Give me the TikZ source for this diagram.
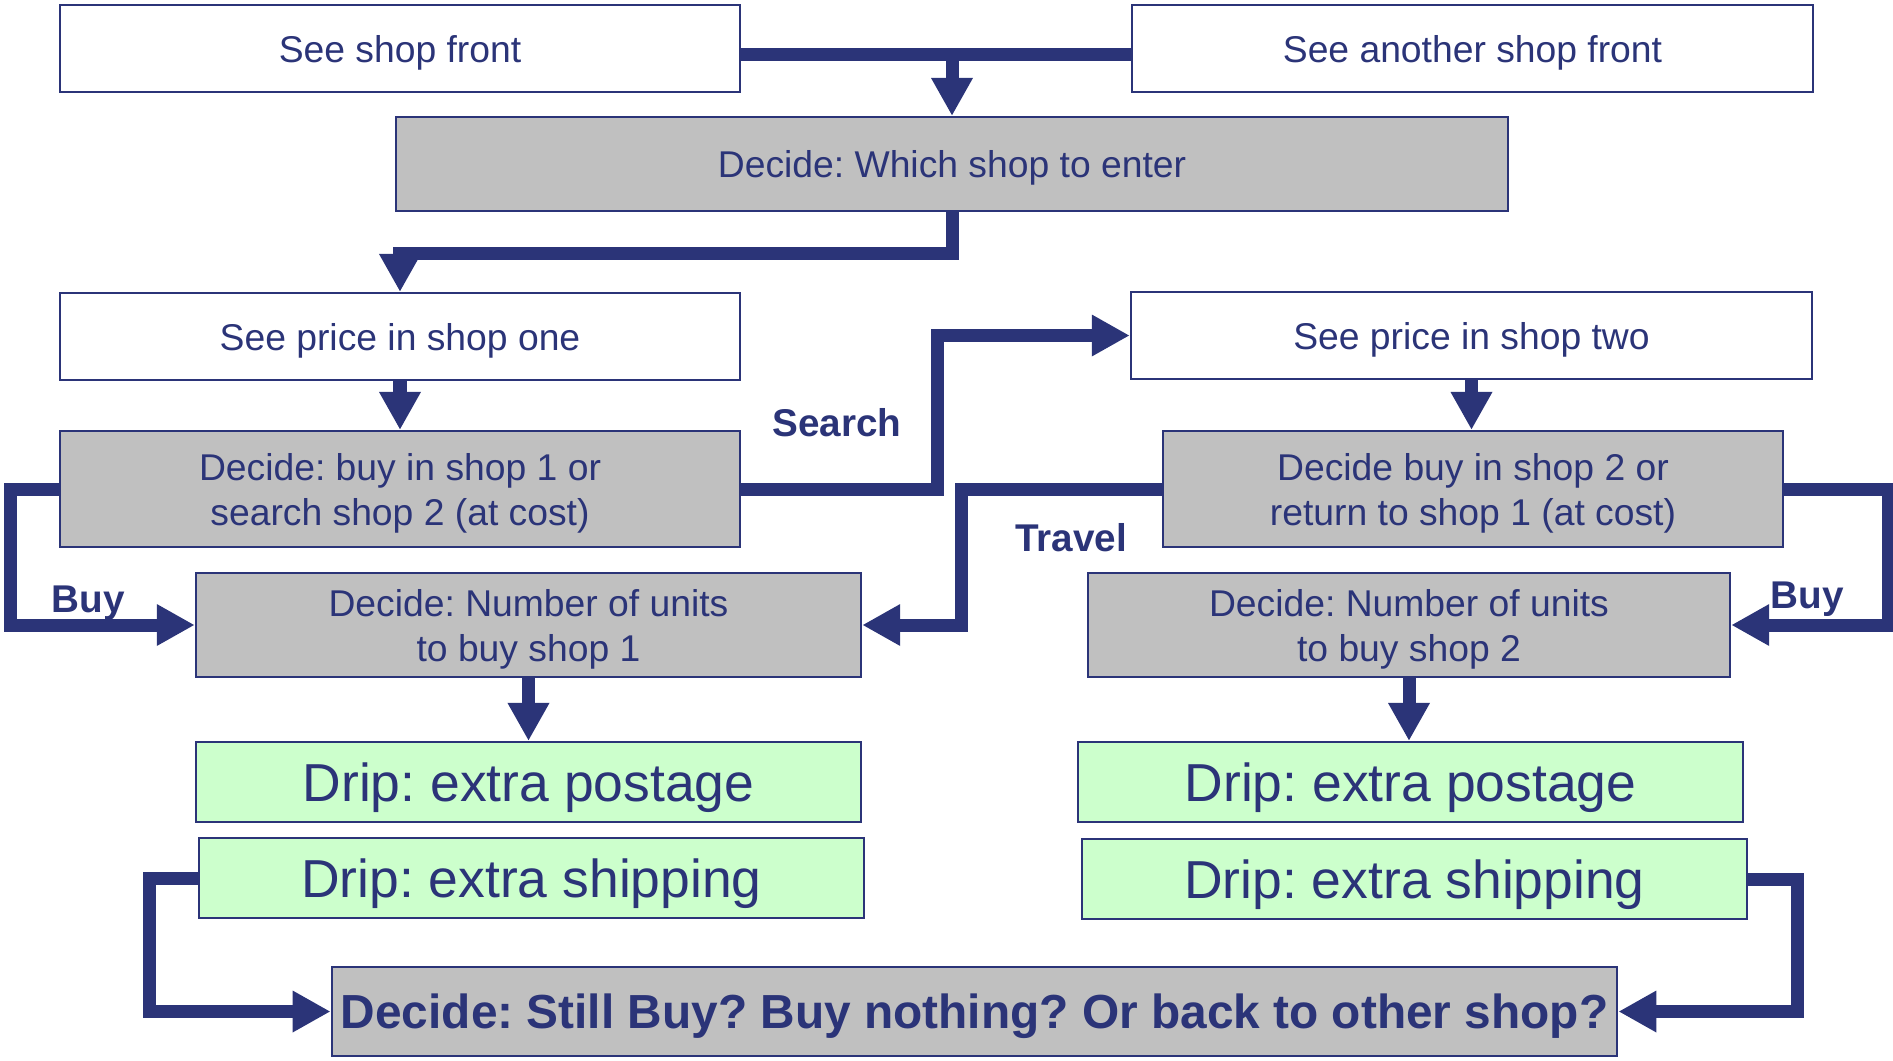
\documentclass[tikz,border=0pt]{standalone}
\usepackage{fontspec}
\setmainfont{Liberation Sans}
\frenchspacing
\usetikzlibrary{arrows.meta,calc}
\definecolor{navy}{RGB}{43,52,120}
\definecolor{boxgray}{RGB}{192,192,192}
\definecolor{dripgreen}{RGB}{204,255,204}
\tikzset{
  box/.style={draw=navy,line width=0.6pt,text=navy,align=center,inner sep=0pt,
    text depth=-1.5pt,font=\fontsize{10.6}{12.8}\selectfont},
  shopbox/.style={box,fill=white,minimum height=0.87cm},
  decidebox/.style={box,fill=boxgray},
  dripbox/.style={box,fill=dripgreen,minimum width=6.65cm,minimum height=0.8cm,
    font=\fontsize{15.2}{17}\selectfont},
  flow/.style={draw=navy,line width=3.7pt},
  arr/.style={flow,-{Triangle[length=10.8pt,width=11.1pt]}},
  tag/.style={text=navy,font=\bfseries\fontsize{11}{13}\selectfont},
}
\begin{document}
\begin{tikzpicture}[x=0.01cm,y=-0.01cm]
\useasboundingbox (0,0) rectangle (1893,1060);

\node[shopbox,minimum width=6.8cm] (front1) at (400,48.5) {See shop front};
\node[shopbox,minimum width=6.81cm] (front2) at (1472.5,48.5) {See another shop front};
\node[decidebox,minimum width=11.12cm,minimum height=0.94cm] (enter) at (952,164) {Decide: Which shop to enter};

\node[shopbox,minimum width=6.8cm] (price1) at (400,336.5) {See price in shop one};
\node[shopbox,minimum width=6.81cm] (price2) at (1471.5,335.5) {See price in shop two};
\node[decidebox,minimum width=6.8cm,minimum height=1.16cm] (dec1) at (400,489) {Decide: buy in shop 1 or\\search shop 2 (at cost)};
\node[decidebox,minimum width=6.2cm,minimum height=1.16cm] (dec2) at (1473,489) {Decide buy in shop 2 or\\return to shop 1 (at cost)};
\node[decidebox,minimum width=6.65cm,minimum height=1.04cm] (units1) at (528.5,625) {Decide: Number of units\\to buy shop 1};
\node[decidebox,minimum width=6.42cm,minimum height=1.04cm] (units2) at (1409,625) {Decide: Number of units\\to buy shop 2};

\node[dripbox] (post1) at (528.5,782) {Drip: extra postage};
\node[dripbox] (ship1) at (531.5,878) {Drip: extra shipping};
\node[dripbox] (post2) at (1410.5,782) {Drip: extra postage};
\node[dripbox] (ship2) at (1414.5,879) {Drip: extra shipping};

\node[decidebox,minimum width=12.85cm,minimum height=0.89cm,font=\bfseries\fontsize{13.6}{16}\selectfont] (final) at (974.5,1011.5) {Decide: Still Buy? Buy nothing? Or back to other shop?};

\coordinate (join) at (952,55);
\draw[flow] ($(front1.east)+(0,6)$) -- ($(front2.west)+(0,6)$);
\draw[arr] (join) -- (enter.north);
\draw[arr] (enter.south) -- ++(0,41) -| (price1.north);

\draw[arr] (price1.south) -- (dec1.north);
\draw[arr] (price2.south) -- (price2.south |- dec2.north);
\draw[arr] (dec1.east) -- ++(196,0) |- (price2.west);
\draw[arr] (dec2.west) -- ++(-200,0) |- (units1.east);
\draw[arr] (dec1.west) -- ++(-48,0) |- (units1.west);
\draw[arr] (dec2.east) -- ++(104,0) |- (units2.east);

\draw[arr] (units1.south) -- (post1.north);
\draw[arr] (units2.south) -- (units2.south |- post2.north);

\draw[arr] (ship1.west) -- ++(-48,0) |- (final.west);
\draw[arr] (ship2.east) -- ++(49,0) |- (final.east);

\node[tag] (search) at (837,423) {Search};
\node[tag] (travel) at (1071,538) {Travel};
\node[tag] (buy1) at (88,603) {Buy};
\node[tag] (buy2) at (1807,599) {Buy};

\end{tikzpicture}
\end{document}
